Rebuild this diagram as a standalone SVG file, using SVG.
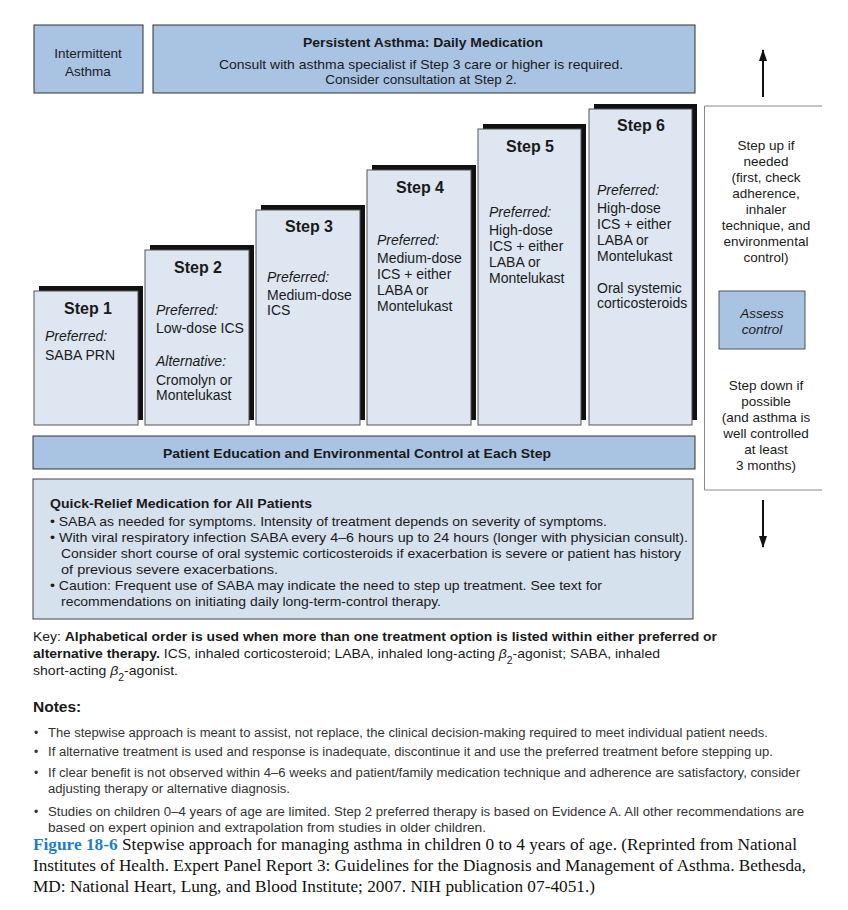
<svg xmlns="http://www.w3.org/2000/svg" width="848" height="910" viewBox="0 0 848 910">
<style>
text{font-family:"Liberation Sans",Arial,sans-serif;fill:#1a1a1a}
.mid{fill:#a9c3e3;stroke:#333;stroke-width:1}
.step{fill:#dde6f1;stroke:#555;stroke-width:1}
.shadow{fill:#111}
.qr{fill:#d6e1ee;stroke:#444;stroke-width:1}
.t14{font-size:14px}
.t13{font-size:13.5px}
.h{font-size:16px;font-weight:bold;text-anchor:middle}
.b{font-weight:bold}
.i{font-style:italic}
.c{text-anchor:middle}
.note{font-size:12px;fill:#333}
.cap{font-family:"Liberation Serif","Times New Roman",serif;font-size:16.5px;fill:#111}
.rl{stroke:#888;stroke-width:1;fill:none}
</style>
<defs>
<marker id="ah" markerWidth="12" markerHeight="8" refX="11" refY="4" orient="auto" markerUnits="userSpaceOnUse" viewBox="0 0 12 8">
<path d="M0,0 L12,4 L0,8 Z" fill="#111"/>
</marker>
</defs>
<rect width="848" height="910" fill="#fff"/>

<g id="intermittent">
<rect class="mid" x="34" y="25" width="109" height="68"/>
<text class="t13 c" x="88" y="58">Intermittent</text>
<text class="t13 c" x="88" y="76">Asthma</text>
</g>

<g id="persistent">
<rect class="mid" x="153" y="25" width="542" height="68"/>
<text class="t13 c b" x="423" y="47" textLength="240" lengthAdjust="spacingAndGlyphs">Persistent Asthma: Daily Medication</text>
<text class="t13 c" x="421" y="69" textLength="404" lengthAdjust="spacingAndGlyphs">Consult with asthma specialist if Step 3 care or higher is required.</text>
<text class="t13 c" x="421" y="84">Consider consultation at Step 2.</text>
</g>

<g id="step1">
<rect class="shadow" x="39" y="286" width="104" height="134"/>
<rect class="step" x="34" y="291" width="104" height="134"/>
<text class="h" x="88" y="314">Step 1</text>
<text class="t14 i" x="45" y="341">Preferred:</text>
<text class="t14" x="45" y="360">SABA PRN</text>
</g>

<g id="step2">
<rect class="shadow" x="150" y="245" width="104" height="175"/>
<rect class="step" x="145" y="250" width="104" height="175"/>
<text class="h" x="198" y="273">Step 2</text>
<text class="t14 i" x="156" y="315">Preferred:</text>
<text class="t14" x="156" y="333">Low-dose ICS</text>
<text class="t14 i" x="156" y="366">Alternative:</text>
<text class="t14" x="156" y="385">Cromolyn or</text>
<text class="t14" x="156" y="400">Montelukast</text>
</g>

<g id="step3">
<rect class="shadow" x="261" y="205" width="104" height="215"/>
<rect class="step" x="256" y="210" width="104" height="215"/>
<text class="h" x="309" y="232">Step 3</text>
<text class="t14 i" x="267" y="282">Preferred:</text>
<text class="t14" x="267" y="300">Medium-dose</text>
<text class="t14" x="267" y="315">ICS</text>
</g>

<g id="step4">
<rect class="shadow" x="372" y="165" width="104" height="255"/>
<rect class="step" x="367" y="170" width="104" height="255"/>
<text class="h" x="420" y="193">Step 4</text>
<text class="t14 i" x="377" y="245">Preferred:</text>
<text class="t14" x="377" y="263">Medium-dose</text>
<text class="t14" x="377" y="279">ICS + either</text>
<text class="t14" x="377" y="295">LABA or</text>
<text class="t14" x="377" y="311">Montelukast</text>
</g>

<g id="step5">
<rect class="shadow" x="483" y="124" width="103" height="296"/>
<rect class="step" x="478" y="129" width="103" height="296"/>
<text class="h" x="530" y="152">Step 5</text>
<text class="t14 i" x="489" y="217">Preferred:</text>
<text class="t14" x="489" y="235">High-dose</text>
<text class="t14" x="489" y="251">ICS + either</text>
<text class="t14" x="489" y="267">LABA or</text>
<text class="t14" x="489" y="283">Montelukast</text>
</g>

<g id="step6">
<rect class="shadow" x="594" y="104" width="103" height="316"/>
<rect class="step" x="589" y="109" width="103" height="316"/>
<text class="h" x="641" y="131">Step 6</text>
<text class="t14 i" x="597" y="195">Preferred:</text>
<text class="t14" x="597" y="213">High-dose</text>
<text class="t14" x="597" y="229">ICS + either</text>
<text class="t14" x="597" y="245">LABA or</text>
<text class="t14" x="597" y="261">Montelukast</text>
<text class="t14" x="597" y="293">Oral systemic</text>
<text class="t14" x="597" y="308">corticosteroids</text>
</g>

<g id="side-panel">
<path class="rl" d="M822,106 H704.5 V490 H822"/>
<text class="t13 c" x="766" y="150">Step up if</text>
<text class="t13 c" x="766" y="166">needed</text>
<text class="t13 c" x="766" y="182">(first, check</text>
<text class="t13 c" x="766" y="198">adherence,</text>
<text class="t13 c" x="766" y="214">inhaler</text>
<text class="t13 c" x="766" y="230">technique, and</text>
<text class="t13 c" x="766" y="246">environmental</text>
<text class="t13 c" x="766" y="262">control)</text>
<text class="t13 c" x="766" y="390">Step down if</text>
<text class="t13 c" x="766" y="406">possible</text>
<text class="t13 c" x="766" y="422">(and asthma is</text>
<text class="t13 c" x="766" y="438">well controlled</text>
<text class="t13 c" x="766" y="454">at least</text>
<text class="t13 c" x="766" y="470">3 months)</text>
</g>

<g id="assess-control">
<rect class="mid" x="719" y="291" width="86" height="58" style="stroke:#555"/>
<text class="t13 c i" x="762" y="318">Assess</text>
<text class="t13 c i" x="762" y="334">control</text>
</g>

<g id="connectors">
<line x1="763" y1="97" x2="763" y2="50" stroke="#111" stroke-width="2" marker-end="url(#ah)"/>
<line x1="763" y1="500" x2="763" y2="547" stroke="#111" stroke-width="2" marker-end="url(#ah)"/>
</g>

<g id="patient-education">
<rect class="mid" x="33" y="436" width="662" height="33"/>
<text class="t13 c b" x="357" y="458" textLength="388" lengthAdjust="spacingAndGlyphs">Patient Education and Environmental Control at Each Step</text>
</g>

<g id="quick-relief">
<rect class="qr" x="33" y="479" width="660" height="140"/>
<text class="t13 b" x="50" y="508" textLength="262" lengthAdjust="spacingAndGlyphs">Quick-Relief Medication for All Patients</text>
<text class="t13" x="50" y="526" textLength="557" lengthAdjust="spacingAndGlyphs">• SABA as needed for symptoms. Intensity of treatment depends on severity of symptoms.</text>
<text class="t13" x="50" y="542" textLength="638" lengthAdjust="spacingAndGlyphs">• With viral respiratory infection SABA every 4–6 hours up to 24 hours (longer with physician consult).</text>
<text class="t13" x="61" y="558" textLength="620" lengthAdjust="spacingAndGlyphs">Consider short course of oral systemic corticosteroids if exacerbation is severe or patient has history</text>
<text class="t13" x="61" y="574" textLength="217" lengthAdjust="spacingAndGlyphs">of previous severe exacerbations.</text>
<text class="t13" x="50" y="590" textLength="552" lengthAdjust="spacingAndGlyphs">• Caution: Frequent use of SABA may indicate the need to step up treatment. See text for</text>
<text class="t13" x="61" y="606" textLength="380" lengthAdjust="spacingAndGlyphs">recommendations on initiating daily long-term-control therapy.</text>
</g>

<g id="key">
<text class="t13" x="33" y="641" textLength="684" lengthAdjust="spacingAndGlyphs">Key: <tspan class="b">Alphabetical order is used when more than one treatment option is listed within either preferred or</tspan></text>
<text class="t13" x="33" y="658" textLength="627" lengthAdjust="spacingAndGlyphs"><tspan class="b">alternative therapy.</tspan> ICS, inhaled corticosteroid; LABA, inhaled long-acting <tspan class="i">β</tspan><tspan baseline-shift="sub" font-size="10">2</tspan>-agonist; SABA, inhaled</text>
<text class="t13" x="33" y="675" textLength="145" lengthAdjust="spacingAndGlyphs">short-acting <tspan class="i">β</tspan><tspan baseline-shift="sub" font-size="10">2</tspan>-agonist.</text>
</g>

<g id="notes">
<text class="b" x="33" y="712" font-size="15.5" fill="#222">Notes:</text>
<text class="note" x="34" y="737">•</text>
<text class="note" x="48" y="737" textLength="720" lengthAdjust="spacingAndGlyphs">The stepwise approach is meant to assist, not replace, the clinical decision-making required to meet individual patient needs.</text>
<text class="note" x="34" y="756">•</text>
<text class="note" x="48" y="756" textLength="725" lengthAdjust="spacingAndGlyphs">If alternative treatment is used and response is inadequate, discontinue it and use the preferred treatment before stepping up.</text>
<text class="note" x="34" y="777">•</text>
<text class="note" x="48" y="777" textLength="752" lengthAdjust="spacingAndGlyphs">If clear benefit is not observed within 4–6 weeks and patient/family medication technique and adherence are satisfactory, consider</text>
<text class="note" x="48" y="793" textLength="242" lengthAdjust="spacingAndGlyphs">adjusting therapy or alternative diagnosis.</text>
<text class="note" x="34" y="816">•</text>
<text class="note" x="48" y="816" textLength="756" lengthAdjust="spacingAndGlyphs">Studies on children 0–4 years of age are limited.  Step 2 preferred therapy is based on Evidence A.  All other recommendations are</text>
<text class="note" x="48" y="832" textLength="438" lengthAdjust="spacingAndGlyphs">based on expert opinion and extrapolation from studies in older children.</text>
</g>

<g id="caption">
<text class="cap" x="33" y="850" textLength="764" lengthAdjust="spacingAndGlyphs"><tspan font-weight="bold" fill="#1e7fc6">Figure 18-6</tspan> Stepwise approach for managing asthma in children 0 to 4 years of age. (Reprinted from National</text>
<text class="cap" x="33" y="871" textLength="773" lengthAdjust="spacingAndGlyphs">Institutes of Health. Expert Panel Report 3: Guidelines for the Diagnosis and Management of Asthma. Bethesda,</text>
<text class="cap" x="33" y="892" textLength="562" lengthAdjust="spacingAndGlyphs">MD: National Heart, Lung, and Blood Institute; 2007. NIH publication 07-4051.)</text>
</g>
</svg>
